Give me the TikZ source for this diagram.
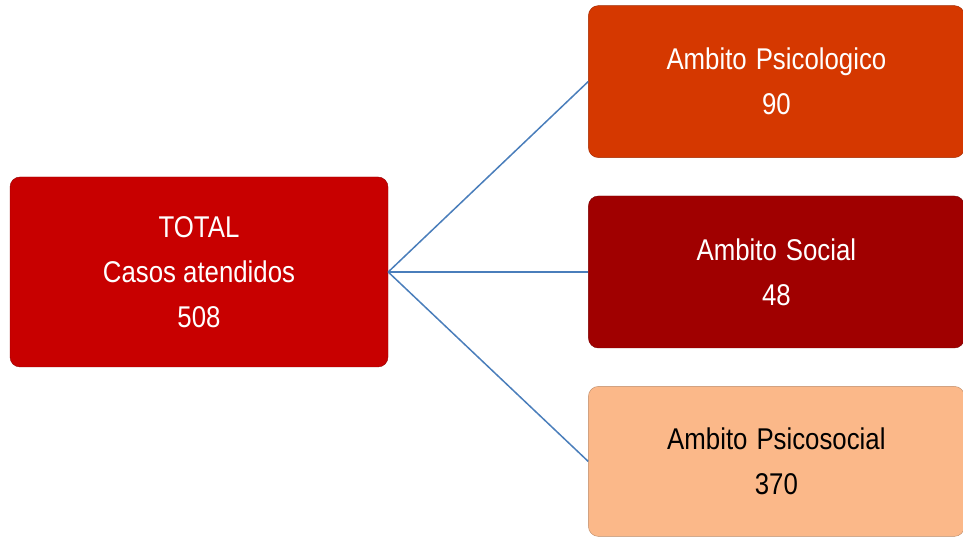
\documentclass[tikz,border=0pt]{standalone}
\usepackage{fontspec}
\setmainfont{Liberation Sans}[FakeStretch=0.86]
\usepackage{xcolor}
\usetikzlibrary{positioning}

\definecolor{totalred}{RGB}{200,0,0}
\definecolor{psicored}{RGB}{213,56,0}
\definecolor{socialred}{RGB}{160,0,0}
\definecolor{psicosocpeach}{RGB}{251,184,137}
\definecolor{linkblue}{RGB}{74,126,187}

\begin{document}
\begin{tikzpicture}[x=1pt, y=1pt, node distance=200pt]
    \useasboundingbox (0,0) rectangle (963,537);
    \fontsize{30}{45}\selectfont
    % Main box
    \node[rectangle, draw=totalred!75!black, fill=totalred, rounded corners=10pt, text=white, minimum width=378pt, minimum height=190pt, align=center] (total) at (199,265) {TOTAL\\Casos atendidos\\508};
    
    % Right boxes
    \node[rectangle, draw=socialred!75!black, fill=socialred, rounded corners=10pt, text=white, minimum width=376pt, minimum height=152pt, align=center, right=of total] (social) {Ambito\hspace{9pt}Social\\48};
    \node[rectangle, draw=psicored!75!black, fill=psicored, rounded corners=10pt, text=white, minimum width=376pt, minimum height=152pt, align=center, above=38pt of social] (psico) {Ambito\hspace{9pt}Psicologico\\90};
    \node[rectangle, draw=psicosocpeach!75!black, fill=psicosocpeach, rounded corners=10pt, text=black, minimum width=376pt, minimum height=150pt, align=center, below=38pt of social] (psicosoc) {Ambito\hspace{9pt}Psicosocial\\370};
    
    % Connections
    \draw[linkblue, line width=1.5pt] (total.east) -- (psico.west);
    \draw[linkblue, line width=1.5pt] (total.east) -- (social.west);
    \draw[linkblue, line width=1.5pt] (total.east) -- (psicosoc.west);
\end{tikzpicture}
\end{document}
